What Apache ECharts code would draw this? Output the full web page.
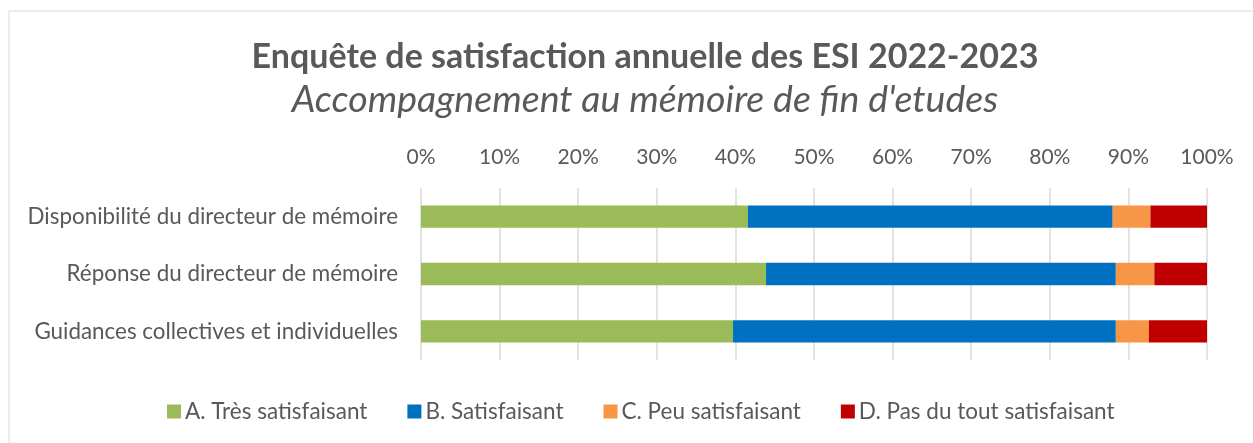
<!DOCTYPE html>
<html>
<head>
<meta charset="utf-8">
<script src="https://cdn.jsdelivr.net/npm/echarts@6/dist/echarts.min.js"></script>
<style>html,body{margin:0;padding:0;background:#fff;}#c{width:1253px;height:443px;}</style>
</head>
<body>
<div id="c"></div>
<script>
const categories = ["Disponibilité du directeur de mémoire", "Réponse du directeur de mémoire", "Guidances collectives et individuelles"];
const seriesNames = ["A. Très satisfaisant", "B. Satisfaisant", "C. Peu satisfaisant", "D. Pas du tout satisfaisant"];
const tresSatisfaisant = [41.6, 43.9, 39.7];
const satisfaisant = [46.4, 44.5, 48.7];
const peuSatisfaisant = [4.8, 4.9, 4.2];
const pasDuToutSatisfaisant = [7.2, 6.7, 7.4];
const colors = ["#9BBB59", "#0070C0", "#F79646", "#C00000"];

const FONT = "Lato, 'Open Sans', sans-serif";
const chart = echarts.init(document.getElementById('c'), null, {renderer: 'canvas'});
const values = [tresSatisfaisant, satisfaisant, peuSatisfaisant, pasDuToutSatisfaisant];
chart.setOption({
  animation: false,
  backgroundColor: '#fff',
  graphic: [{
    type: 'rect', shape: {x: 9, y: 11, width: 1260, height: 450},
    style: {fill: 'none', stroke: '#d9d9d9', lineWidth: 1}, silent: true
  }],
  title: {
    text: 'Enquête de satisfaction annuelle des ESI 2022-2023',
    subtext: "Accompagnement au mémoire de fin d'etudes",
    left: 640, textAlign: 'center', top: 35, itemGap: 7,
    textStyle: {fontFamily: FONT, fontSize: 34, fontWeight: 'bold', color: '#595959'},
    subtextStyle: {fontFamily: FONT, fontSize: 37.5, fontStyle: 'italic', color: '#595959'}
  },
  legend: {
    data: seriesNames, top: 395, left: 162, itemWidth: 14, itemHeight: 14, itemGap: 40,
    icon: 'rect',
    textStyle: {fontFamily: FONT, fontSize: 22.5, color: '#595959', padding: [0, 0, 0, -1]}
  },
  grid: {left: 421, right: 46, top: 188, bottom: 83, containLabel: false},
  xAxis: {
    type: 'value', position: 'top', min: 0, max: 100, interval: 10,
    axisLabel: {formatter: '{value}%', fontFamily: FONT, fontSize: 21, color: '#595959', margin: 20},
    axisLine: {show: false}, axisTick: {show: false},
    splitLine: {lineStyle: {color: '#d9d9d9', width: 1.5}}
  },
  yAxis: {
    type: 'category', data: categories, inverse: true,
    axisLabel: {fontFamily: FONT, fontSize: 22.4, color: '#595959', margin: 23},
    axisLine: {show: false}, axisTick: {show: false}
  },
  series: seriesNames.map((n, i) => ({
    name: n, type: 'bar', stack: 'total', data: values[i], barWidth: '39%',
    itemStyle: {color: colors[i]}
  }))
});
</script>
</body>
</html>
